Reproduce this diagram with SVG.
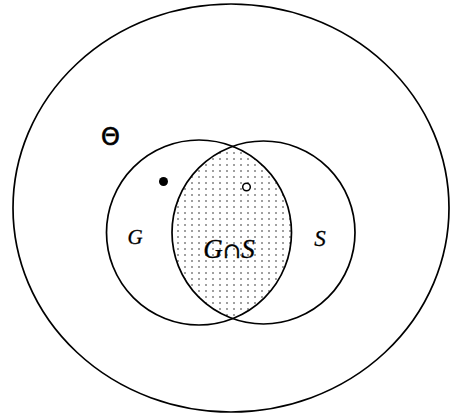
<svg xmlns="http://www.w3.org/2000/svg" width="451" height="415" viewBox="0 0 451 415">
<style>
.ln{fill:none;stroke:#000;stroke-width:1.7}
.lbl{font-family:"Liberation Serif",serif;font-style:italic;fill:#000;stroke:#000;stroke-width:0.3}
</style>
<defs>
<pattern id="dots" width="7" height="6" patternUnits="userSpaceOnUse">
<rect x="2" y="2" width="2" height="2" fill="#a0a0a0"/>
</pattern>
<clipPath id="clipG"><circle cx="199" cy="232.5" r="92.5"/></clipPath>
</defs>
<rect width="451" height="415" fill="#fff"/>
<g id="universe">
<ellipse class="ln" cx="231" cy="208" rx="218" ry="204"/>
<text x="110.5" y="145" font-family="DejaVu Sans,sans-serif" font-size="24" fill="#000" stroke="#000" stroke-width="0.6" text-anchor="middle">Θ</text>
</g>
<g id="intersection">
<circle cx="263.5" cy="232.5" r="91.5" fill="url(#dots)" clip-path="url(#clipG)"/>
<text class="lbl" x="229" y="258" font-size="27" text-anchor="middle">G<tspan font-family="DejaVu Serif,serif" font-style="normal" font-size="22">∩</tspan>S</text>
</g>
<g id="G">
<circle class="ln" cx="199" cy="232.5" r="92.5"/>
<text class="lbl" x="135" y="244" font-size="21" text-anchor="middle">G</text>
</g>
<g id="S">
<circle class="ln" cx="263.5" cy="232.5" r="91.5"/>
<text class="lbl" x="320" y="246" font-size="23" text-anchor="middle">S</text>
</g>
<g id="points">
<circle cx="163.5" cy="181.5" r="4.5" fill="#000"/>
<circle cx="246.5" cy="187" r="3.8" fill="#fff" stroke="#000" stroke-width="1.5"/>
</g>
</svg>
